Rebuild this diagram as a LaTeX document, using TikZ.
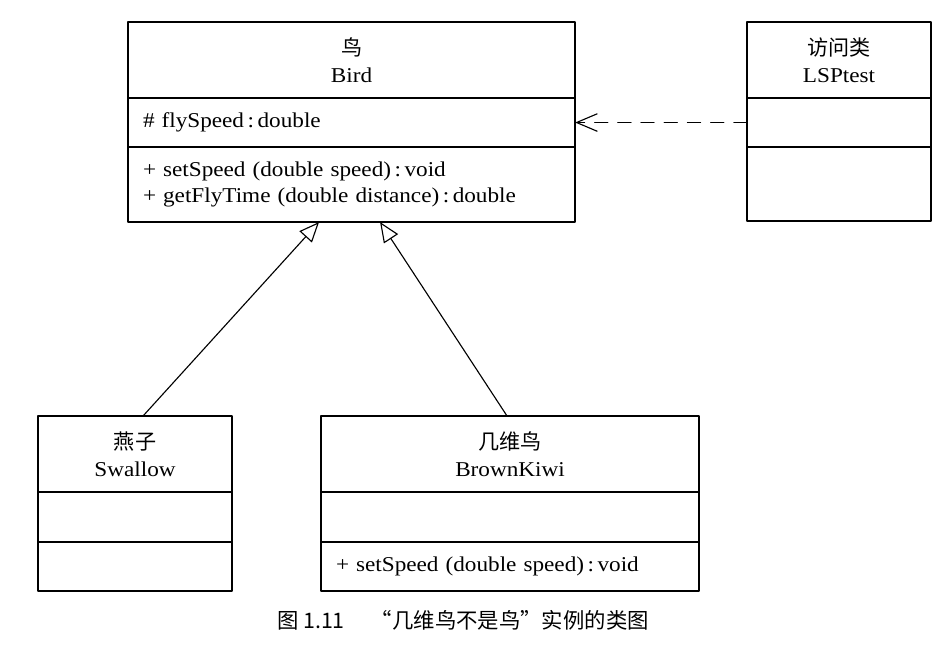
\documentclass[tikz,border=0pt]{standalone}
\usepackage{fontspec}
\setmainfont{Liberation Serif}[FakeStretch=1.1]
\newfontfamily\cjk{Noto Sans CJK SC}
\usepackage{tikz}
\usetikzlibrary{arrows.meta,positioning}
\tikzset{
  part/.style={draw, line width=1.1pt, outer sep=0pt, inner xsep=0.375cm, inner ysep=0pt, font=\fontsize{15}{19}\selectfont},
  head/.style={part, align=center},
  body/.style={part, align=left},
  inherit/.style={-{Triangle[open, length=0.5cm, width=0.42cm]}, line width=0.8pt},
  uses/.style={-{Straight Barb[length=0.52cm, width=0.44cm]}, line width=0.8pt, dash pattern=on 0.33cm off 0.25cm},
  every picture/.style={line cap=round, line join=round}
}

\begin{document}
\begin{tikzpicture}[x=0.025cm, y=-0.025cm]
    \useasboundingbox (0,0) rectangle (946,652);

    \node[head, text width=10.425cm, minimum height=1.9cm, anchor=north west] (birdhead) at (128,22) {{\cjk 鸟}\\Bird};
    \node[body, text width=10.425cm, minimum height=1.225cm, below=0pt of birdhead] (birdattr) {\# flySpeed\,:\,double};
    \node[body, text width=10.425cm, minimum height=1.875cm, below=0pt of birdattr] (birdops) {+ setSpeed (double speed)\,:\,void\\+ getFlyTime (double distance)\,:\,double};

    \node[head, text width=3.85cm, minimum height=1.9cm, anchor=north west] (lsphead) at (747,22) {{\cjk 访问类}\\LSPtest};
    \node[body, text width=3.85cm, minimum height=1.225cm, below=0pt of lsphead] (lspattr) {};
    \node[body, text width=3.85cm, minimum height=1.85cm, below=0pt of lspattr] (lspops) {};

    \node[head, text width=4.1cm, minimum height=1.9cm, anchor=north west] (swallowhead) at (38,416) {{\cjk 燕子}\\Swallow};
    \node[body, text width=4.1cm, minimum height=1.25cm, below=0pt of swallowhead] (swallowattr) {};
    \node[body, text width=4.1cm, minimum height=1.225cm, below=0pt of swallowattr] (swallowops) {};

    \node[head, text width=8.7cm, minimum height=1.9cm, anchor=north west] (kiwihead) at (321,416) {{\cjk 几维鸟}\\BrownKiwi};
    \node[body, text width=8.7cm, minimum height=1.25cm, below=0pt of kiwihead] (kiwiattr) {};
    \node[body, text width=8.7cm, minimum height=1.225cm, below=0pt of kiwiattr] (kiwiops) {+ setSpeed (double speed)\,:\,void};

    \coordinate (birdL) at ([xshift=-0.8125cm]birdops.south);
    \coordinate (birdR) at ([xshift=0.7125cm]birdops.south);

    \draw[inherit] ([xshift=0.2cm]swallowhead.north) -- (birdL);
    \draw[inherit] ([xshift=-0.075cm]kiwihead.north) -- (birdR);
    \draw[uses] (lspattr.west) -- (birdattr.east);

    \node[font=\cjk\fontsize{15.2}{18}\selectfont] (caption) at (463,620) {图 1.11\quad\ “几维鸟不是鸟”实例的类图};
\end{tikzpicture}
\end{document}
